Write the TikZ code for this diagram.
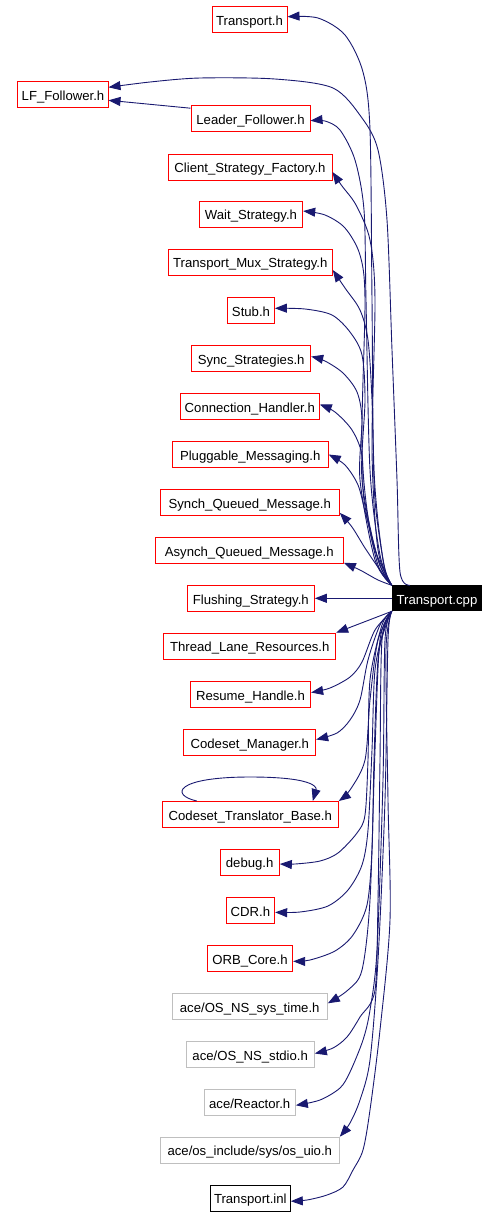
\documentclass[tikz,border=0pt]{standalone}
\usepackage{fontspec}
\setmainfont{Liberation Sans}
\usetikzlibrary{arrows.meta}
\definecolor{edgeblue}{RGB}{25,25,112}
\definecolor{boxgray}{RGB}{191,191,191}
\begin{document}
\begin{tikzpicture}[x=1bp,y=-1bp,
  hbox/.style={draw=#1, line width=1bp, minimum height=26bp, inner sep=0pt, text height=11.6bp, text depth=0.2bp, font=\fontsize{13.2}{15}\selectfont, fill=white},
  dep/.style={draw=edgeblue, line width=0.9bp, -{Triangle[length=12bp,width=9bp]}}]
\useasboundingbox (0,0) rectangle (499,1216);

\node[hbox=red, minimum width=75bp] (th) at (249.5,19.7) {Transport.h};
\node[hbox=red, minimum width=90bp] (lff) at (63,94.3) {LF\_Follower.h};
\node[hbox=red, minimum width=119bp] (lead) at (250.5,118.7) {Leader\_Follower.h};
\node[hbox=red, minimum width=164bp] (csf) at (250,167) {Client\_Strategy\_Factory.h};
\node[hbox=red, minimum width=103.4bp] (ws) at (251,214) {Wait\_Strategy.h};
\node[hbox=red, minimum width=164bp] (tms) at (250.3,262) {Transport\_Mux\_Strategy.h};
\node[hbox=red, minimum width=46.7bp] (stub) at (251,310.3) {Stub.h};
\node[hbox=red, minimum width=119bp] (ss) at (251.2,358.5) {Sync\_Strategies.h};
\node[hbox=red, minimum width=139bp] (ch) at (249.8,406.5) {Connection\_Handler.h};
\node[hbox=red, minimum width=156bp] (pm) at (250.2,454.5) {Pluggable\_Messaging.h};
\node[hbox=red, minimum width=179bp] (sqm) at (249.8,502.3) {Synch\_Queued\_Message.h};
\node[hbox=red, minimum width=188bp] (aqm) at (249.3,550.3) {Asynch\_Queued\_Message.h};
\node[hbox=red, minimum width=127bp] (fs) at (250.8,598.3) {Flushing\_Strategy.h};
\node[hbox=black, fill=black, text=white, minimum width=89.4bp, minimum height=25bp] (cpp) at (437,598.3) {Transport.cpp};
\node[hbox=red, minimum width=171.7bp] (tlr) at (249.8,646.2) {Thread\_Lane\_Resources.h};
\node[hbox=red, minimum width=120.3bp] (rh) at (250.5,694.5) {Resume\_Handle.h};
\node[hbox=red, minimum width=131.7bp] (cm) at (249.8,742.5) {Codeset\_Manager.h};
\node[hbox=red, minimum width=176bp] (ctb) at (250.3,814.5) {Codeset\_Translator\_Base.h};
\node[hbox=red, minimum width=59.3bp] (dbg) at (249.7,862) {debug.h};
\node[hbox=red, minimum width=48.5bp] (cdr) at (250.4,910.3) {CDR.h};
\node[hbox=red, minimum width=85.3bp] (orb) at (250,958.3) {ORB\_Core.h};
\node[hbox=boxgray, minimum width=155.3bp] (sys) at (249.7,1006.3) {ace/OS\_NS\_sys\_time.h};
\node[hbox=boxgray, minimum width=128.3bp] (stdio) at (250.2,1054.5) {ace/OS\_NS\_stdio.h};
\node[hbox=boxgray, minimum width=91.3bp] (reactor) at (249.7,1102.3) {ace/Reactor.h};
\node[hbox=boxgray, minimum width=179bp] (uio) at (249.8,1150.2) {ace/os\_include/sys/os\_uio.h};
\node[hbox=black, minimum width=80bp] (inl) at (250.3,1198.2) {Transport.inl};

% upper edges
\draw[dep] plot[smooth] coordinates {(cpp.north west) (383,560) (374,470) (372,300) (370,130) (363,72) (345,35) (318,18) ([yshift=3bp]th.east)};
\draw[dep] plot[smooth] coordinates {([xshift=18bp]cpp.north west) (400,572) (397,480) (392,350) (387,220) (378,150) (362,118) (333,88) (275,79) (200,78) (150,82) ([yshift=7bp]lff.east)};
\draw[dep] ([yshift=-3bp]lead.north west) -- ([yshift=-6bp]lff.east);
\draw[dep] plot[smooth] coordinates {(cpp.north west) (380,555) (370,470) (366,300) (364,210) (355,160) (340,130) (325,121) ([yshift=-2bp]lead.east)};
\draw[dep] plot[smooth] coordinates {(cpp.north west) (378,550) (372,450) (375,300) (370,240) (356,205) (342,186) ([yshift=-5bp]csf.east)};
\draw[dep] plot[smooth] coordinates {(cpp.north west) (372,540) (362,450) (365,300) (360,255) (345,228) (325,215) ([yshift=3bp]ws.east)};
\draw[dep] plot[smooth] coordinates {(cpp.north west) (385,570) (375,500) (372,400) (368,340) (360,310) (345,288) ([yshift=-8bp]tms.east)};
\draw[dep] plot[smooth] coordinates {(cpp.north west) (378,560) (362,480) (365,400) (362,355) (350,332) (332,315) (305,309) ([yshift=2bp]stub.east)};
\draw[dep] plot[smooth] coordinates {(cpp.north west) (375,560) (360,480) (362,420) (357,392) (343,373) (325,361) ([yshift=2bp]ss.east)};
\draw[dep] plot[smooth] coordinates {(cpp.north west) (378,565) (364,500) (362,455) (352,430) (335,412) ([yshift=2bp]ch.east)};
\draw[dep] plot[smooth] coordinates {(cpp.north west) (380,565) (366,515) (358,485) (345,465) ([yshift=0bp]pm.east)};
\draw[dep] plot[smooth] coordinates {(cpp.north west) (380,570) (365,548) (352,527) ([yshift=3bp]sqm.south east)};
\draw[dep] plot[smooth] coordinates {(cpp.north west) (378,580) (360,570) ([yshift=1bp]aqm.south east)};
\draw[dep] (cpp.west) -- (fs.east);

% lower edges
\draw[dep] (cpp.south west) -- (tlr.north east);
\draw[dep] plot[smooth] coordinates {(cpp.south west) (375,630) (362,662) (350,677) (330,688) ([yshift=2bp]rh.east)};
\draw[dep] plot[smooth] coordinates {(cpp.south west) (380,625) (368,660) (360,700) (350,720) (337,733) ([yshift=3bp]cm.east)};
\draw[dep] plot[smooth] coordinates {(cpp.south west) (378,640) (370,700) (365,760) (350,790) (ctb.north east)};
\draw[dep] ([xshift=35bp]ctb.north west) .. controls (170,795) and (175,777) .. (250,777) .. controls (322,777) and (316,790) .. ([xshift=-26bp]ctb.north east);
\draw[dep] plot[smooth] coordinates {(cpp.south west) (382,625) (370,680) (368,760) (365,815) (357,833) (338,853) (320,861) (295,864) ([yshift=-2bp]dbg.east)};
\draw[dep] plot[smooth] coordinates {(cpp.south west) (385,625) (375,670) (372,750) (368,830) (362,865) (348,890) (328,906) (300,912) ([yshift=-2bp]cdr.east)};
\draw[dep] plot[smooth] coordinates {(cpp.south west) (386,625) (378,660) (374,760) (372,850) (367,905) (353,935) (335,951) (310,960) ([yshift=-3bp]orb.east)};
\draw[dep] plot[smooth] coordinates {(cpp.south west) (380,640) (375,750) (370,900) (362,970) (348,990) ([yshift=3bp]sys.east)};
\draw[dep] plot[smooth] coordinates {(cpp.south west) (382,640) (380,760) (378,900) (375,990) (360,1017) (347,1037) (333,1048) ([yshift=1bp]stdio.east)};
\draw[dep] plot[smooth] coordinates {(cpp.south west) (385,640) (383,780) (377,950) (370,1010) (363,1040) (350,1072) (340,1088) (320,1100) ([yshift=-3bp]reactor.east)};
\draw[dep] plot[smooth] coordinates {(cpp.south west) (388,640) (385,800) (378,960) (370,1060) (360,1100) (350,1123) (uio.north east)};
\draw[dep] plot[smooth] coordinates {(cpp.south west) (386,650) (388,800) (390,920) (380,1030) (370,1110) (363,1150) (353,1170) (343,1187) (327,1195) (307,1200) ([yshift=-3bp]inl.east)};
\end{tikzpicture}
\end{document}
